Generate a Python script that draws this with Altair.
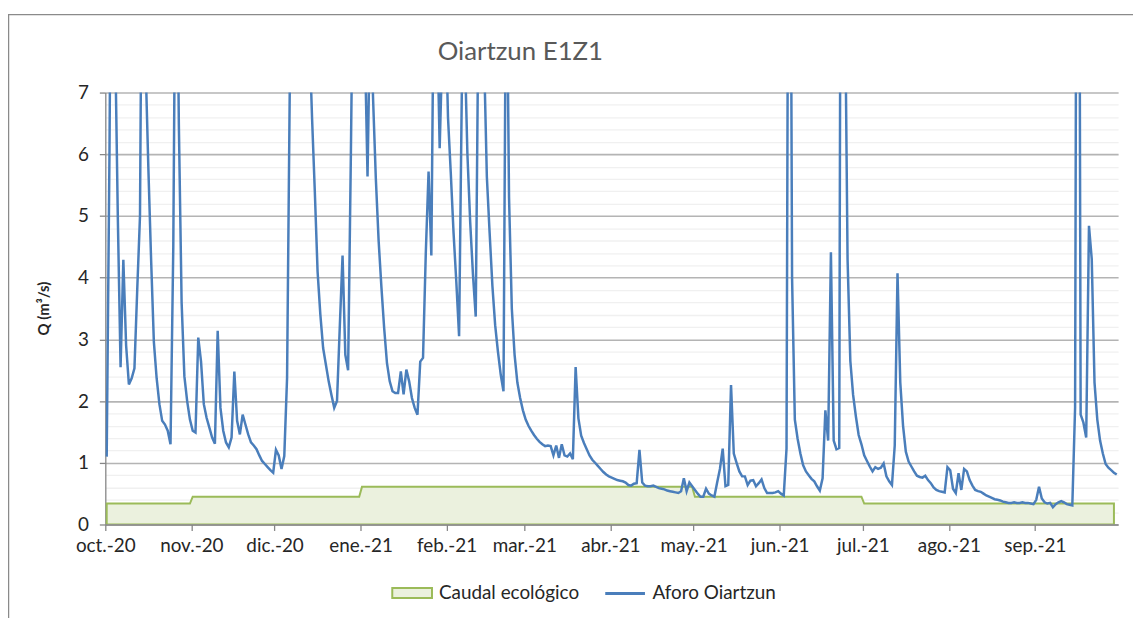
import altair as alt
import pandas as pd

titulo = "Oiartzun E1Z1"
serie_q = "Aforo Oiartzun"
serie_eco = "Caudal ecológico"
titulo_y = "Q (m³/s)"
meses_es = ["ene.", "feb.", "mar.", "abr.", "may.", "jun.",
            "jul.", "ago.", "sep.", "oct.", "nov.", "dic."]

# Caudal ecológico mensual (oct.-20 ... sep.-21), m3/s
eco_mensual = [0.34, 0.45, 0.45, 0.61, 0.61, 0.61, 0.61, 0.45, 0.45, 0.34, 0.34, 0.34]

# Caudal diario aforado (m3/s)
q_oct = [1.10, 6.0, 13.0, 8.0, 5.0, 2.55, 4.29, 2.9, 2.27, 2.37, 2.53, 3.8, 5.0, 12.0, 7.5, 5.8,
         4.3, 2.96, 2.37, 1.95, 1.68, 1.62, 1.52, 1.30, 4.5, 11.0, 6.5, 3.6, 2.4, 2.0, 1.7]
q_nov = [1.52, 1.49, 3.03, 2.64, 1.95, 1.73, 1.57, 1.41, 1.31, 3.14, 1.89, 1.52, 1.33, 1.25, 1.41,
         2.48, 1.68, 1.46, 1.78, 1.62, 1.46, 1.33, 1.28, 1.22, 1.12, 1.03, 0.98, 0.93, 0.88, 0.84]
q_dic = [1.21, 1.12, 0.90, 1.11, 2.37, 7.2, 12.0, 16.0, 13.0, 10.0, 9.0, 9.5, 8.0, 6.6, 5.4, 4.1,
         3.4, 2.86, 2.59, 2.32, 2.10, 1.89, 2.0, 3.2, 4.36, 2.75, 2.5, 6.0, 10.0, 14.0, 11.0]
q_ene = [9.0, 7.9, 5.64, 8.5, 6.9, 5.6, 4.6, 3.85, 3.18, 2.62, 2.32, 2.16, 2.13, 2.13, 2.48, 2.11,
         2.51, 2.32, 2.05, 1.89, 1.78, 2.64, 2.70, 4.40, 5.72, 4.36, 9.5, 8.4, 6.1, 7.8, 8.5]
q_feb = [6.6, 5.7, 4.73, 3.93, 3.05, 7.1, 7.8, 6.0, 4.9, 4.05, 3.37, 8.5, 11.0, 7.6, 5.64, 4.73,
         3.87, 3.23, 2.8, 2.43, 2.16, 10.0, 5.3, 3.5, 2.75, 2.3, 2.05, 1.85]
q_mar = [1.70, 1.60, 1.52, 1.45, 1.39, 1.34, 1.30, 1.27, 1.28, 1.27, 1.12, 1.28, 1.08, 1.30, 1.12,
         1.10, 1.15, 1.06, 2.55, 1.72, 1.44, 1.32, 1.22, 1.12, 1.05, 1.00, 0.95, 0.90, 0.85, 0.81, 0.78]
q_abr = [0.76, 0.74, 0.72, 0.71, 0.70, 0.68, 0.64, 0.63, 0.66, 0.67, 1.21, 0.68, 0.63, 0.62, 0.62,
         0.63, 0.61, 0.59, 0.58, 0.57, 0.55, 0.54, 0.53, 0.52, 0.51, 0.54, 0.75, 0.54, 0.68, 0.62]
q_may = [0.56, 0.50, 0.45, 0.45, 0.58, 0.50, 0.47, 0.45, 0.68, 0.90, 1.23, 0.62, 0.64, 2.26, 1.15,
         1.00, 0.86, 0.78, 0.78, 0.64, 0.71, 0.72, 0.62, 0.67, 0.73, 0.59, 0.51, 0.51, 0.51, 0.52, 0.54]
q_jun = [0.50, 0.47, 1.23, 16.0, 4.0, 1.70, 1.39, 1.15, 0.96, 0.86, 0.80, 0.74, 0.70, 0.62, 0.55,
         0.75, 1.85, 1.36, 4.41, 1.36, 1.22, 1.24, 20.0, 9.0, 4.3, 2.65, 2.10, 1.75, 1.45, 1.30]
q_jul = [1.12, 1.03, 0.94, 0.86, 0.93, 0.90, 0.92, 0.99, 0.78, 0.70, 0.64, 1.28, 4.07, 2.30, 1.60,
         1.18, 1.02, 0.94, 0.86, 0.79, 0.77, 0.76, 0.79, 0.72, 0.67, 0.60, 0.56, 0.54, 0.53, 0.52, 0.93]
q_ago = [0.88, 0.58, 0.51, 0.83, 0.56, 0.90, 0.86, 0.72, 0.63, 0.56, 0.54, 0.53, 0.50, 0.47, 0.45,
         0.43, 0.41, 0.40, 0.39, 0.37, 0.36, 0.35, 0.35, 0.36, 0.35, 0.35, 0.36, 0.35, 0.35, 0.34, 0.33]
q_sep = [0.40, 0.61, 0.42, 0.36, 0.34, 0.35, 0.28, 0.33, 0.36, 0.38, 0.36, 0.33, 0.32, 0.31, 1.90,
         20.0, 1.78, 1.65, 1.41, 4.84, 4.30, 2.30, 1.70, 1.36, 1.15, 0.98, 0.92, 0.88, 0.84, 0.81]

q_diario = q_oct + q_nov + q_dic + q_ene + q_feb + q_mar + q_abr + q_may + q_jun + q_jul + q_ago + q_sep

fechas = pd.date_range("2020-10-01 12:00", periods=len(q_diario), freq="D")
fechas_txt = list(fechas.strftime("%Y-%m-%dT%H:%M:%SZ"))

df_q = pd.DataFrame({"fecha": fechas_txt, "q": q_diario, "serie": serie_q})
n_eco = len(q_diario) - 1
df_eco = pd.DataFrame({
    "fecha": fechas_txt[:n_eco],
    "eco": [eco_mensual[(f.month - 10) % 12] for f in fechas[:n_eco]],
    "serie": serie_eco,
})

# ---- escalas / ejes ----
mes_ticks = [alt.DateTime(year=2020 + (m < 10), month=m, date=1, utc=True)
             for m in [10, 11, 12, 1, 2, 3, 4, 5, 6, 7, 8, 9]]
x_scale = alt.Scale(type="utc", domain=[alt.DateTime(year=2020, month=10, date=1, utc=True),
                                       alt.DateTime(year=2021, month=10, date=1, utc=True)])
meses_js = "[" + ",".join("'%s'" % m for m in meses_es) + "]"
x_axis = alt.Axis(
    values=mes_ticks, title=None, grid=False,
    labelExpr=meses_js + "[utcmonth(datum.value)] + '-' + utcFormat(datum.value, '%y')",
    tickSize=6, tickColor="#868686", tickWidth=1.3, domainColor="#868686", domainWidth=1.3,
    labelPadding=6, labelOverlap=False, labelFlush=False, zindex=1,
)

y_vals = [round(i * 0.2, 1) for i in range(36)]
mayor = "datum.value % 1 === 0"
y_axis = alt.Axis(
    values=y_vals, title=titulo_y, grid=True, format=".0f",
    gridColor={"condition": {"test": mayor, "value": "#B4B4B4"}, "value": "#F0F0F0"},
    gridWidth={"condition": {"test": mayor, "value": 1.6}, "value": 1.3},
    tickColor={"condition": {"test": mayor, "value": "#868686"}, "value": "transparent"},
    tickSize=6, tickWidth=1.3, domainColor="#868686", domainWidth=1.3,
    labelExpr=mayor + " ? datum.label : ''", labelOverlap=False, labelPadding=11,
    titleFont="Lato", titleFontSize=15, titleFontWeight="bold", titleColor="#262626",
    titleX=-62, titleY=217, titleAlign="center", titleBaseline="middle",
)
y_scale = alt.Scale(domain=[0, 7], nice=False, zero=True)

leg_comun = dict(title=None, orient="none", padding=0, labelFont="Lato", labelFontSize=19,
                 labelColor="#262626", labelOffset=6, symbolSize=1600)

area = alt.Chart(df_eco).mark_area(
    stroke="#9BBB59", strokeWidth=2, interpolate="linear", clip=True
).encode(
    x=alt.X("fecha:T", scale=x_scale, axis=x_axis),
    y=alt.Y("eco:Q", scale=y_scale, axis=y_axis),
    fill=alt.Fill("serie:N", scale=alt.Scale(domain=[serie_eco], range=["#EBF1DE"]),
                  legend=alt.Legend(legendX=288, legendY=483,
                                    symbolType="M-1,-0.25L1,-0.25L1,0.25L-1,0.25Z",
                                    symbolStrokeColor="#9BBB59", symbolStrokeWidth=2,
                                    **leg_comun)),
)

linea = alt.Chart(df_q).mark_line(strokeWidth=2.5, clip=True).encode(
    x=alt.X("fecha:T", scale=x_scale, axis=x_axis),
    y=alt.Y("q:Q", scale=y_scale, axis=y_axis),
    stroke=alt.Stroke("serie:N", scale=alt.Scale(domain=[serie_q], range=["#4A7EBB"]),
                      legend=alt.Legend(legendX=502, legendY=483, symbolType="stroke",
                                        symbolStrokeWidth=3, **leg_comun)),
)

# marco exterior del gráfico (sólo visibles los bordes izquierdo y superior)
borde = alt.Chart(alt.Data(values=[{"k": 1}])).mark_rect(
    fill="transparent", stroke="#8A8A8A", strokeWidth=1.3, clip=False
).encode(x=alt.value(-97.4), x2=alt.value(1070), y=alt.value(-78.6), y2=alt.value(560))

chart = alt.layer(area, linea, borde).properties(
    width=1020, height=435,
    title=alt.TitleParams(titulo, font="Lato", fontSize=26, fontWeight="normal", color="#595959",
                          anchor="middle", frame="group", dx=-92, offset=0, dy=72,
                          baseline="alphabetic"),
    autosize=alt.AutoSizeParams(type="none"),
    padding={"left": 98, "top": 83, "right": 15, "bottom": 92},
).resolve_legend(fill="independent", stroke="independent").configure_view(
    strokeWidth=0
).configure_axis(
    labelFont="Lato", labelFontSize=19, labelColor="#262626"
)

chart.save("out.html", embed_options={"renderer": "svg", "actions": False})
